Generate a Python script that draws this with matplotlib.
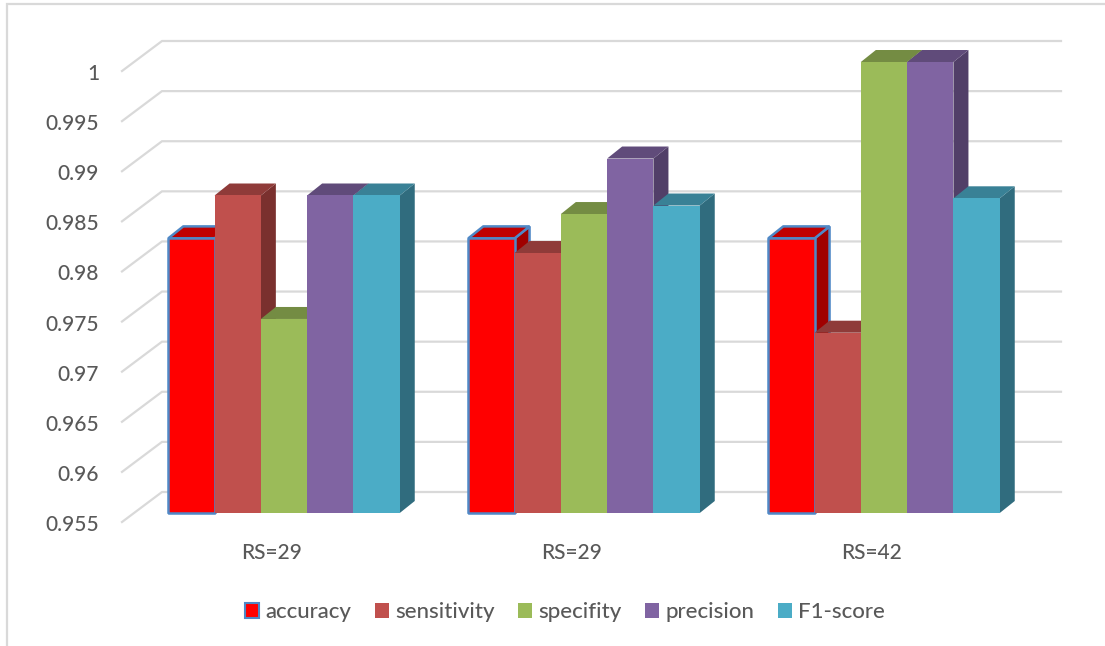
import matplotlib
matplotlib.use("Agg")
import matplotlib.pyplot as plt
from matplotlib.lines import Line2D
from matplotlib.patches import Patch, Polygon
from matplotlib.transforms import ScaledTranslation

plt.rcParams["font.family"] = ["Lato", "DejaVu Sans"]
plt.rcParams["font.weight"] = "medium"

categories = ["RS=29", "RS=29", "RS=42"]
accuracy = [0.9824, 0.9824, 0.9824]
sensitivity = [0.98668, 0.98094, 0.97299]
specifity = [0.97436, 0.98483, 1.0]
precision = [0.98668, 0.99037, 1.0]
f1_score = [0.98668, 0.98568, 0.9864]
series_names = ["accuracy", "sensitivity", "specifity", "precision", "F1-score"]
series_values = [accuracy, sensitivity, specifity, precision, f1_score]
y_ticks = [0.955, 0.96, 0.965, 0.97, 0.975, 0.98, 0.985, 0.99, 0.995, 1.0]
y_labels = ["0.955", "0.96", "0.965", "0.97", "0.975", "0.98", "0.985", "0.99", "0.995", "1"]

front_colors = ["#FF0000", "#C0504D", "#9BBB59", "#8064A2", "#4BACC6"]
top_colors = ["#C00000", "#8F3B39", "#748C43", "#604B7A", "#398196"]
side_colors = ["#A00000", "#7A302E", "#5F7336", "#513F68", "#306C7E"]
GRID = "#D9D9D9"
TEXT = "#595959"
EDGE = "#4F88C6"

W, H = 1105, 646
fig = plt.figure(figsize=(W / 100, H / 100), dpi=100, facecolor="white")
ax = fig.add_axes([122 / W, (H - 522) / H, 900 / W, 451 / H])
ax.set_xlim(-0.5, 2.5)
ax.set_ylim(0.955, 1.0)
for spine in ax.spines.values():
    spine.set_visible(False)

# Pixel-to-data factors for the oblique depth of the pseudo-3D view.
px = 3 / 900
py = 0.045 / 451
wall_dx, wall_dy = 40 * px, 30 * py
front_dx, front_dy = 12 * px, 9 * py
bar_dx, bar_dy = 15 * px, 12 * py
bar_width = 46.3 * px
base = 0.955

# Side wall diagonal plus back wall line for every tick value.
for t in y_ticks:
    ax.plot([-0.5, -0.5 + wall_dx, 2.5 + wall_dx - px], [t, t + wall_dy, t + wall_dy],
            color=GRID, lw=1.6, clip_on=False, zorder=1, solid_joinstyle="miter")

# Painted left to right so each bar's front hides its neighbour's side face.
z = 2
for g in range(len(categories)):
    for s, values in enumerate(series_values):
        v = values[g]
        left = g + front_dx + (s - 2.5) * bar_width
        right = left + bar_width
        bottom = base + front_dy
        top = v + front_dy
        outlined = s == 0
        style = dict(edgecolor=EDGE, linewidth=1.8, joinstyle="bevel") if outlined else dict(linewidth=0)
        side = Polygon([(right, bottom), (right + bar_dx, bottom + bar_dy),
                        (right + bar_dx, top + bar_dy), (right, top)],
                       facecolor=side_colors[s], clip_on=False, zorder=z, **style)
        cap = Polygon([(left, top), (left + bar_dx, top + bar_dy),
                       (right + bar_dx, top + bar_dy), (right, top)],
                      facecolor=top_colors[s], clip_on=False, zorder=z, **style)
        ax.add_patch(side)
        ax.add_patch(cap)
        ax.bar(left, v - base, width=bar_width, bottom=bottom, align="edge",
               color=front_colors[s], clip_on=False, zorder=z + 1, **style)
        z += 2

ax.set_xlim(-0.5, 2.5)
ax.set_ylim(0.955, 1.0)
ax.set_yticks(y_ticks, y_labels, fontsize=15, color=TEXT)
ax.set_xticks(range(len(categories)), categories, fontsize=15, color=TEXT)
ax.tick_params(axis="y", length=0, pad=16.5)
ax.tick_params(axis="x", length=0, pad=15)
nudge = ScaledTranslation(0, -1 / 100, fig.dpi_scale_trans)
for label in ax.get_yticklabels():
    label.set_transform(label.get_transform() + nudge)

handles = [Patch(facecolor=c, edgecolor=EDGE if i == 0 else c, linewidth=1.5 if i == 0 else 0)
           for i, c in enumerate(front_colors)]
fig.legend(handles, series_names, loc="center", bbox_to_anchor=(565 / W, 1 - 612.5 / H), ncol=5,
           frameon=False, fontsize=16, labelcolor=TEXT, handlelength=0.63, handleheight=0.63,
           handletextpad=0.27, columnspacing=1.07, borderpad=0)

# Chart area frame, visible along the top and left sides only.
fig.add_artist(Line2D([7 / W, 7 / W, 1], [0, 1 - 4 / H, 1 - 4 / H], color=GRID, lw=1.6,
                      solid_joinstyle="miter"))

fig.savefig("out.png", dpi=100)
